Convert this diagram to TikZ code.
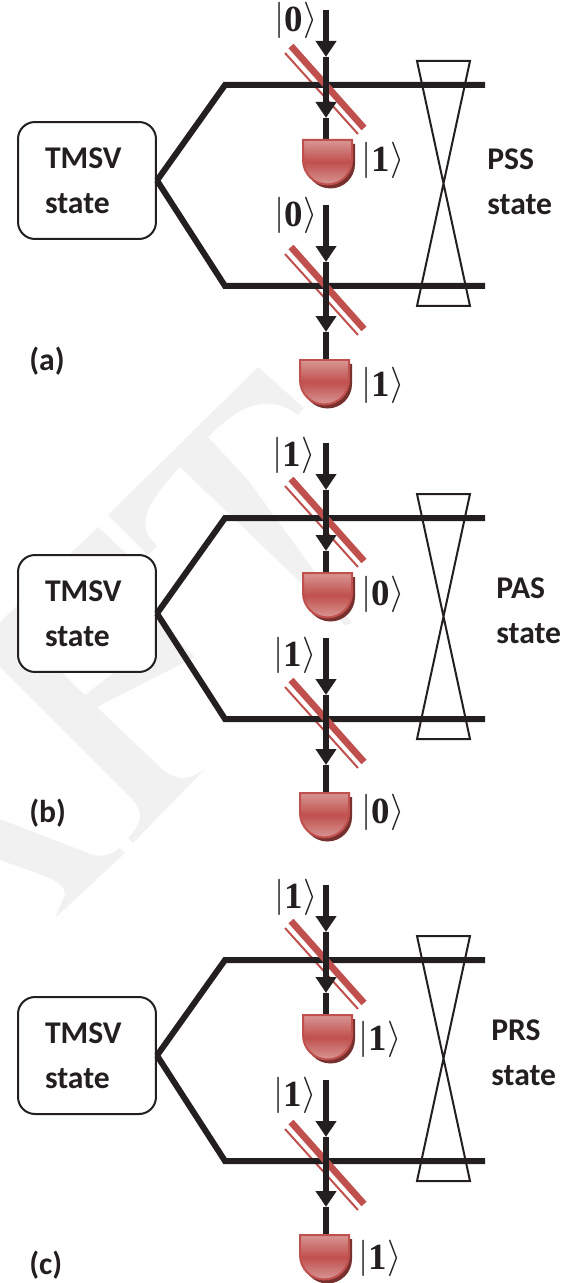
\documentclass[tikz,border=0pt]{standalone}
\usepackage[no-math]{fontspec}
\usepackage{tikz}
\usetikzlibrary{arrows.meta}
\setmainfont{Carlito}
\newfontfamily\ketfont{Liberation Serif}
\definecolor{inkdark}{HTML}{231F20}
\definecolor{bsred}{HTML}{C0504D}
\definecolor{detlight}{HTML}{D89694}
\definecolor{detshadow}{HTML}{76302E}
\definecolor{wmgrey}{HTML}{F1F1F1}
\tikzset{
  beam/.style={line width=0.12cm,draw=inkdark,line cap=butt,line join=miter},
  arrowbeam/.style={beam,-{Triangle[length=0.32cm,width=0.4cm]}},
  trapline/.style={line width=0.04cm,draw=inkdark,line join=miter},
  sourcebox/.style={draw=inkdark,line width=0.04cm,fill=white,rounded corners=0.34cm,
    minimum width=2.76cm,minimum height=2.34cm,inner sep=0pt,text width=1.68cm,align=left,
    text=inkdark,font=\bfseries\fontsize{18}{25.6}\selectfont},
  txt/.style={text=inkdark,inner sep=0pt,align=left,font=\bfseries\fontsize{18}{25.6}\selectfont},
  ket/.style={text=inkdark,inner sep=0pt,font=\fontsize{20.74}{24}\selectfont},
  bsthick/.style={line width=0.135cm,draw=bsred},
  bsthin/.style={line width=0.04cm,draw=bsred},
  detbody/.style={draw=bsred,line width=0.04cm,top color=detlight,bottom color=detlight,middle color=bsred}
}
\newcommand{\detector}[2]{
\fill[detshadow] (#1+3,#2+4) -- ++(49,0) -- ++(0,20) arc[start angle=0,end angle=180,radius=24.5] -- cycle;
\path[detbody] (#1,#2) -- ++(49,0) -- ++(0,20) arc[start angle=0,end angle=180,radius=24.5] -- cycle;
}
\newcommand{\ketval}[1]{$|$\raisebox{-1.4pt}{\ketfont\bfseries\fontsize{21}{21}\selectfont #1}$\rangle$}

\begin{document}
\begin{tikzpicture}[x=0.02cm,y=-0.02cm]
\clip (0,0) rectangle (585,1283);
% faint background marks
\fill[wmgrey] (258,367) -- (108,515) -- (148,555) -- (157,546) .. controls (135,525) and (145,505) .. (180,467) -- (345,625) -- (352,623) -- (248,480) -- (208,437) .. controls (235,410) and (265,390) .. (298,415) -- (304,408) -- cycle;
\fill[wmgrey] (98,527) -- (0,622) -- (0,667) -- (133,800) .. controls (145,815) and (140,825) .. (128,838) -- (133,843) -- (207,767) .. controls (190,782) and (175,780) .. (163,770) -- (97,707) -- (195,657) -- (157,620) -- (128,555) -- cycle;
\fill[white] (63,673) -- (85,695) -- (113,673) -- cycle;
\fill[wmgrey] (0,819) -- (93,855) .. controls (105,857) and (112,854) .. (120,848) -- (125,853) -- (55,918) -- (65,894) .. controls (65,880) and (40,875) .. (0,860) -- cycle;

\foreach \oy/\pn/\yt/\sn/\sx/\sy/\bi/\bo/\xi/\xj/\xo/\ya/\yb/\yc/\yd in {
0/a/361/PSS/487/182/0/1/296/296/383/20/160/215/385,
433/b/380/PAS/496/178/1/0/294/295/383/22/161/222/379,
875/c/390/PRS/491/178/1/1/296/295/380/22/164/220/383}{
\begin{scope}[shift={(0,\oy)}]
\node[sourcebox] (box) at (87,180.5) {TMSV\\state};
\coordinate (ua) at (225,85);
\coordinate (ub) at (485,85);
\coordinate (la) at (225,286);
\coordinate (lb) at (485,286);
\coordinate (ci) at (326,10);
\coordinate (ct1) at (326,57);
\coordinate (ct2) at (326,118);
\coordinate (cd) at (326,140);
\coordinate (di) at (326,205);
\coordinate (dt1) at (326,262);
\coordinate (dt2) at (326,332);
\coordinate (dd) at (326,360);
% thin plates go under the beams
\draw[bsthin] (285,53) -- (358,134);
\draw[bsthin] (285,254) -- (358,335);
\draw[beam] (box.east) -- (ua) -- (ub);
\draw[beam] (box.east) -- (la) -- (lb);
\draw[bsthick] (291,46) -- (364,128);
\draw[bsthick] (291,247) -- (364,329);
\draw[trapline] (417,61) -- (470,61) -- (417,306) -- (470,306) -- cycle;
\draw[arrowbeam] (ci) -- (ct1);
\draw[arrowbeam] (ct1) -- (ct2);
\draw[beam] (ct2) -- (cd);
\draw[arrowbeam] (di) -- (dt1);
\draw[arrowbeam] (dt1) -- (dt2);
\draw[beam] (dt2) -- (dd);
\detector{303}{140}
\detector{300}{360}
\node[ket] (ka) at (\xi,\ya) {\ketval{\bi}};
\node[ket] (kb) at (\xo,\yb) {\ketval{\bo}};
\node[ket] (kc) at (\xj,\yc) {\ketval{\bi}};
\node[ket] (kd) at (\xo,\yd) {\ketval{\bo}};
\node[txt,anchor=west] (st) at (\sx,\sy) {\sn\\state};
\node[txt,anchor=west] (tag) at (29,\yt) {(\pn)};
\end{scope}
}
\end{tikzpicture}
\end{document}
